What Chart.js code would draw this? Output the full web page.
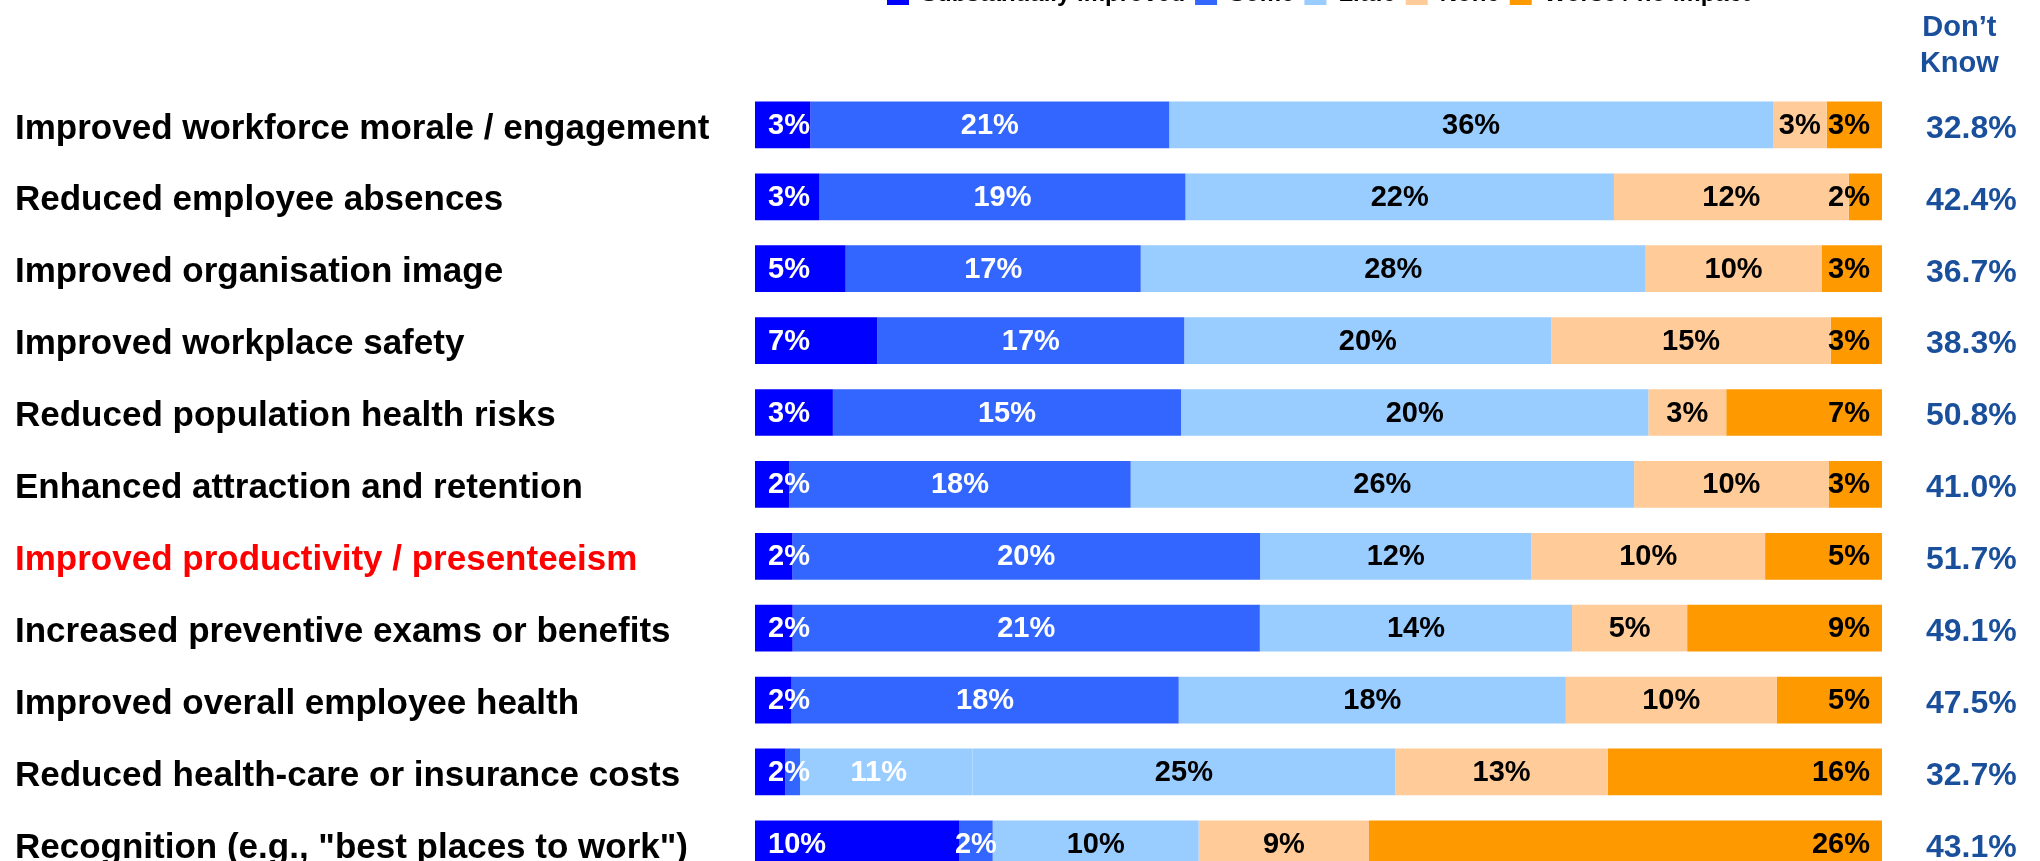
<!DOCTYPE html>
<html>
<head>
<meta charset="utf-8">
<script src="https://cdn.jsdelivr.net/npm/chart.js@4.4.1/dist/chart.umd.min.js"></script>
<style>
  html, body { margin: 0; padding: 0; background: #fff; overflow: hidden; width: 2040px; height: 861px; }
  /* canvas starts above the page so the legend is cut off as in the source */
  #wrap { position: absolute; left: 0; top: -28px; width: 2040px; height: 963px; }
</style>
</head>
<body>
<div id="wrap"><canvas id="chart1"></canvas></div>
<script>
const categories = [
  'Improved workforce morale / engagement',
  'Reduced employee absences',
  'Improved organisation image',
  'Improved workplace safety',
  'Reduced population health risks',
  'Enhanced attraction and retention',
  'Improved productivity / presenteeism',
  'Increased preventive exams or benefits',
  'Improved overall employee health',
  'Reduced health-care or insurance costs',
  'Recognition (e.g., "best places to work")',
];
const highlighted = 'Improved productivity / presenteeism';

const seriesNames = ['Substantially improved', 'Some', 'Little', 'None', 'Worse / no impact'];

// % of all respondents (labels are rounded from these)
const substantially = [3.3, 3.3, 5.1, 6.7, 3.4, 1.8, 1.6, 1.7, 1.7, 1.8, 10.3];
const some          = [21.4, 18.7, 16.6, 16.8, 15.2, 17.9, 20.0, 21.1, 18.0, 11.2, 1.7];
const little        = [36.0, 21.9, 28.4, 20.1, 20.4, 26.4, 11.6, 14.1, 18.0, 25.3, 10.4];
const none          = [3.2, 12.0, 9.9, 15.3, 3.4, 10.2, 10.0, 5.2, 9.8, 12.7, 8.6];
const worse         = [3.3, 1.7, 3.4, 2.8, 6.8, 2.8, 5.0, 8.8, 4.9, 16.4, 25.9];
const dontKnow      = [32.8, 42.4, 36.7, 38.3, 50.8, 41.0, 51.7, 49.1, 47.5, 32.7, 43.1];

// in the source the "Some" bar of the health-care row is only drawn as a stub
const glitchRow = 9;
const glitchStub = 0.9;

const seriesColors = ['#0000FF', '#3366FF', '#99CCFF', '#FFCC99', '#FF9900'];
const dkColor = '#1A4F9C';
const fontFamily = '"Liberation Sans", Arial, Helvetica, sans-serif';

// bars are shares of those who gave an answer (Don't Know left out)
const series = [substantially, some, little, none, worse];
const totals = categories.map((_, r) => series.reduce((s, arr) => s + arr[r], 0));
const shares = series.map((arr) => arr.map((v, r) => v / totals[r] * 100));
const dkLabels = dontKnow.map((v) => v.toFixed(1) + '%');

function segmentColor(c) {
  const base = seriesColors[c.datasetIndex];
  if (c.type !== 'data' || c.datasetIndex !== 1 || c.dataIndex !== glitchRow) return base;
  const x = c.chart.scales.x;
  if (!x || !x.width) return base;
  const start = shares[0][glitchRow];
  const x0 = x.getPixelForValue(start);
  const x1 = x.getPixelForValue(start + shares[1][glitchRow]);
  const stop = glitchStub / some[glitchRow];
  const g = c.chart.ctx.createLinearGradient(x0, 0, x1, 0);
  g.addColorStop(0, base);
  g.addColorStop(stop, base);
  g.addColorStop(stop, seriesColors[2]);
  g.addColorStop(1, seriesColors[2]);
  return g;
}

const barLabels = {
  id: 'barLabels',
  afterDatasetsDraw(chart) {
    const ctx = chart.ctx;
    ctx.save();
    ctx.font = 'bold 29px ' + fontFamily;
    ctx.textBaseline = 'middle';
    chart.data.datasets.forEach((ds, i) => {
      chart.getDatasetMeta(i).data.forEach((bar, r) => {
        const text = Math.round(series[i][r]) + '%';
        ctx.fillStyle = i < 2 ? '#FFFFFF' : '#000000';
        let x;
        if (i === 0) {
          ctx.textAlign = 'left';
          x = bar.base + 13;
        } else if (i === series.length - 1) {
          ctx.textAlign = 'right';
          x = bar.x - 12;
        } else {
          ctx.textAlign = 'center';
          x = (bar.base + bar.x) / 2;
        }
        ctx.fillText(text, x, bar.y + 1);
      });
    });
    ctx.restore();
  }
};

const dkHeader = {
  id: 'dkHeader',
  afterDraw(chart) {
    const ctx = chart.ctx;
    const y2 = chart.scales.y2;
    ctx.save();
    ctx.font = 'bold 32px ' + fontFamily;
    const widest = Math.max(...dkLabels.map((t) => ctx.measureText(t).width));
    const cx = y2.left + y2.options.ticks.padding + widest / 2 - 4;
    ctx.font = 'bold 29px ' + fontFamily;
    ctx.fillStyle = dkColor;
    ctx.textAlign = 'center';
    ctx.textBaseline = 'alphabetic';
    ctx.fillText('Don\u2019t', cx, chart.chartArea.top - 53);
    ctx.fillText('Know', cx, chart.chartArea.top - 17);
    ctx.restore();
  }
};

const ctx1 = document.getElementById('chart1').getContext('2d');
new Chart(ctx1, {
  type: 'bar',
  data: {
    labels: categories,
    datasets: series.map((arr, i) => ({
      label: seriesNames[i],
      data: shares[i],
      backgroundColor: segmentColor,
      borderWidth: 0,
      barPercentage: 1,
      categoryPercentage: 0.65,
    })),
  },
  options: {
    indexAxis: 'y',
    responsive: true,
    maintainAspectRatio: false,
    animation: false,
    layout: { padding: { left: 15, right: 0, top: 0, bottom: 0 } },
    scales: {
      x: {
        position: 'top',
        stacked: true,
        min: 0,
        max: 100,
        grid: { display: false },
        border: { display: false },
        ticks: { display: false },
        afterFit: (s) => { s.height = 73; },
      },
      y: {
        stacked: true,
        grid: { display: false },
        border: { display: false },
        ticks: {
          autoSkip: false,
          crossAlign: 'far',
          padding: 0,
          labelOffset: 4,
          font: { family: fontFamily, size: 35, weight: 'bold' },
          color: (c) => categories[c.index] === highlighted ? '#FF0000' : '#000000',
        },
        afterFit: (s) => { s.width = 740; },
      },
      y2: {
        type: 'category',
        labels: dkLabels,
        position: 'right',
        offset: true,
        grid: { display: false },
        border: { display: false },
        ticks: {
          autoSkip: false,
          crossAlign: 'center',
          padding: 36,
          labelOffset: 4,
          font: { family: fontFamily, size: 32, weight: 'bold' },
          color: dkColor,
        },
        afterFit: (s) => { s.width = 158; },
      },
    },
    plugins: {
      tooltip: { enabled: false },
      legend: {
        position: 'top',
        align: 'center',
        fullSize: false,
        labels: {
          boxWidth: 22,
          boxHeight: 22,
          padding: 10,
          color: '#000000',
          font: { family: fontFamily, size: 24, weight: 'bold' },
        },
      },
    },
  },
  plugins: [barLabels, dkHeader],
});
</script>
</body>
</html>
